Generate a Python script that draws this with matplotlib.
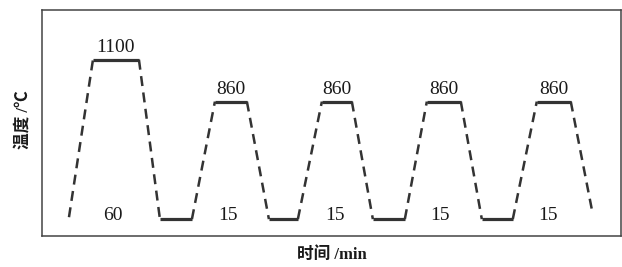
import matplotlib.pyplot as plt

# schematic heat-treatment cycle (x in schematic time units, y in degC)
t = [27, 51, 97, 118, 150, 173, 205, 227, 256, 280, 310, 331, 363,
     385, 419, 440, 471, 495, 529, 551]
T = [197, 1100, 1100, 186, 186, 860, 860, 186, 186, 860, 860, 186, 186,
     860, 860, 186, 186, 860, 860, 214]
# segment kind between consecutive points
kind = ['ramp', 'hold', 'ramp', 'hold', 'ramp', 'hold', 'ramp', 'hold', 'ramp', 'hold',
        'ramp', 'hold', 'ramp', 'hold', 'ramp', 'hold', 'ramp', 'hold', 'ramp']

top_labels = ['1100', '860', '860', '860', '860']
hold_times = ['60', '15', '15', '15', '15']
hold_label_x = [71, 186, 293, 398, 506]

color = '#333333'
txt = '#1a1a1a'

fig = plt.figure(figsize=(6.22, 2.67), dpi=100)
ax = fig.add_axes([0.0675, 0.116, 0.9305, 0.847])

for i, k in enumerate(kind):
    xs, ys = t[i:i + 2], T[i:i + 2]
    if k == 'ramp':
        ax.plot(xs, ys, color=color, lw=1.8, dashes=(4, 2.6), solid_capstyle='butt')
    else:
        ax.plot(xs, ys, color=color, lw=2.3, solid_capstyle='butt')

# labels above the top holds
peaks = [i for i, k in enumerate(kind) if k == 'hold' and T[i] > 500]
for lab, i in zip(top_labels, peaks):
    ax.text((t[i] + t[i + 1]) / 2, T[i] + 20, lab, ha='center', va='bottom',
            fontsize=14, family='Liberation Serif', color=txt)

for lab, x in zip(hold_times, hold_label_x):
    ax.text(x, 207, lab, ha='center', va='center',
            fontsize=14, family='Liberation Serif', color=txt)

ax.set_xlim(0, 579)
ax.set_ylim(89, 1386)
ax.set_xticks([])
ax.set_yticks([])
for s in ax.spines.values():
    s.set_color('#444444')
    s.set_linewidth(1.1)

lab_font = ['Liberation Serif', 'Noto Sans CJK SC']
fig.text(0.038, 0.55, '温度 /℃', rotation=90, ha='center', va='center',
         fontsize=12, fontweight='bold', family=lab_font, color=txt)
fig.text(0.533, 0.045, '时间 /min', ha='center', va='center',
         fontsize=12, fontweight='bold', family=lab_font, color=txt)

fig.savefig('out.png', dpi=100)
